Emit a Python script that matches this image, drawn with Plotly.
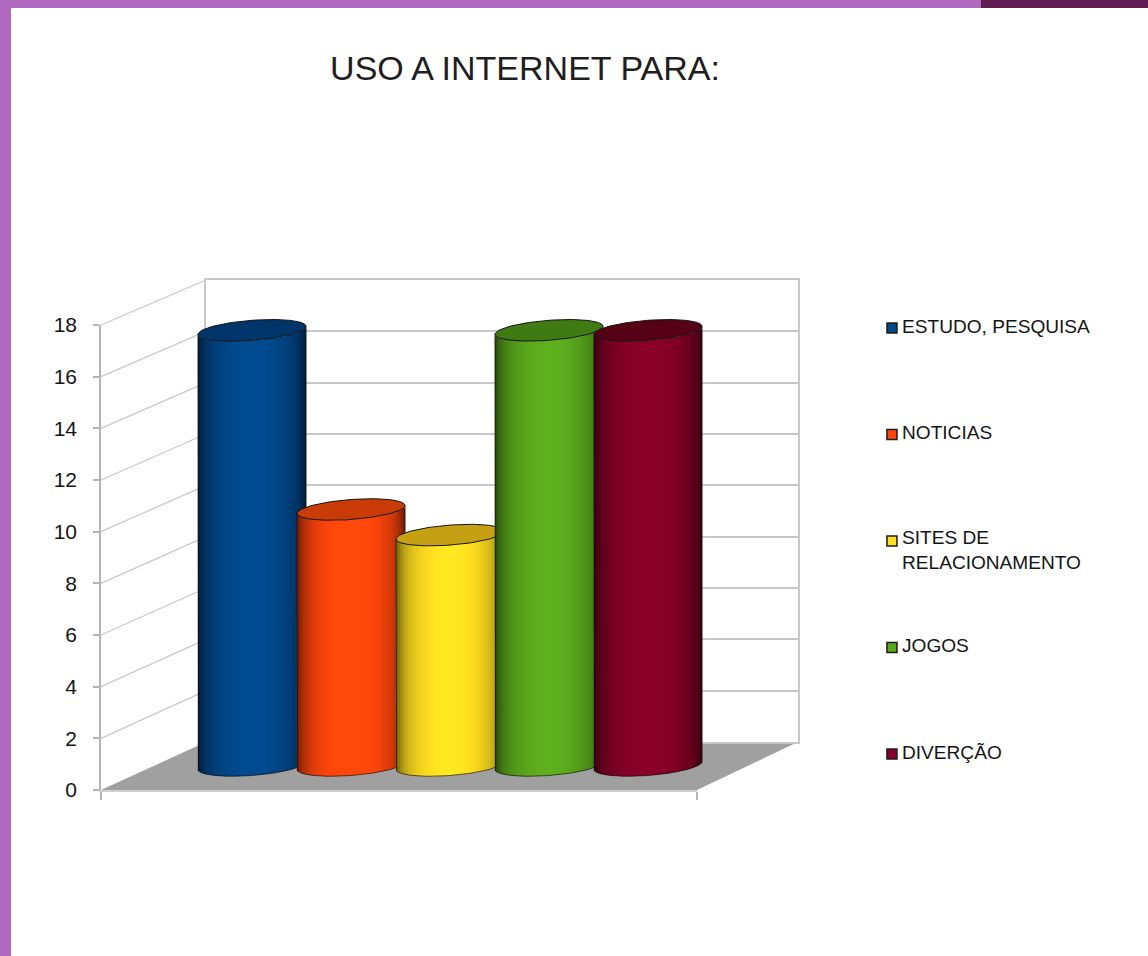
import math
import plotly.graph_objects as go

W, H = 1148, 956

title_text = "USO A INTERNET PARA:"
categories = ["ESTUDO, PESQUISA", "NOTICIAS", "SITES DE<br>RELACIONAMENTO", "JOGOS", "DIVERÇÃO"]
values = [17, 10, 9, 17, 17]
colors = [(0, 72, 138), (255, 70, 12), (255, 222, 32), (90, 168, 30), (132, 0, 40)]
cap_colors = ["#00356b", "#c93c08", "#c5a012", "#3f7a12", "#560016"]
y_ticks = [0, 2, 4, 6, 8, 10, 12, 14, 16, 18]
y_ticklabels = [str(v) for v in y_ticks]

GRID = "#c8c8c8"
AXIS = "#b4b4b4"
FLOOR = "#a0a0a0"


def px(x):
    return x / W


def py(y):
    return 1 - y / H


# planes of the pseudo 3D box, in pixels
FRONT = dict(x0=101, x1=697, y0=790, y18=325)
BACK = dict(x0=206, x1=798, y0=742, y18=280)


def y_on(plane, v):
    return plane["y0"] + (plane["y18"] - plane["y0"]) * v / 18


fig = go.Figure()

# series plane: zero at y=765.5, 25.6 px per unit, -1..18
SCALE = 25.6
SER_TOP = 765.5 - 18 * SCALE
SER_BOT = 765.5 + SCALE
R = 54 / 99
B = 10 / SCALE
K = 4 / SCALE
N = 54


def shade(rgb, u):
    f = 1.05 - 0.35 * u * u - 0.3 * abs(u) ** 8
    return "rgb(%d,%d,%d)" % tuple(min(255, int(c * f)) for c in rgb)


# invisible carriers so that the wall and front axes exist
fig.add_trace(go.Scatter(x=[0], y=[0], xaxis="x", yaxis="y", mode="markers",
                         marker=dict(opacity=0), showlegend=False, hoverinfo="skip"))
fig.add_trace(go.Scatter(x=[0], y=[0], xaxis="x2", yaxis="y2", mode="markers",
                         marker=dict(opacity=0), showlegend=False, hoverinfo="skip"))

for i, (name, v, rgb, cap) in enumerate(zip(categories, values, colors, cap_colors)):
    us = [-1 + (2 * j + 1) / N for j in range(N)]
    xa, ya = f"x{i + 3}", f"y{i + 3}"
    fig.add_trace(go.Bar(
        x=[i + R * u for u in us],
        y=[v] * N,
        base=[K * u - B * math.sqrt(max(0, 1 - u * u)) for u in us],
        width=[2 * R / N * 1.2] * N,
        marker=dict(color=[shade(rgb, u) for u in us], line=dict(width=0)),
        name=name.replace("<br>", " "), xaxis=xa, yaxis=ya, showlegend=False, hoverinfo="skip",
    ))
    ts = [2 * math.pi * j / 120 for j in range(121)]
    fig.add_trace(go.Scatter(
        x=[i + R * math.cos(t) for t in ts],
        y=[v + K * math.cos(t) + B * math.sin(t) for t in ts],
        mode="lines", fill="toself", fillcolor=cap,
        line=dict(color="#141414", width=1), xaxis=xa, yaxis=ya,
        showlegend=False, hoverinfo="skip",
    ))
    arc = [math.pi * j / 60 for j in range(61)]
    fig.add_trace(go.Scatter(
        x=[i - R] + [i - R * math.cos(t) for t in arc] + [i + R],
        y=[v - K] + [-K * math.cos(t) - B * math.sin(t) for t in arc] + [v + K],
        mode="lines", line=dict(color="rgba(20,10,10,0.65)", width=1), xaxis=xa, yaxis=ya,
        showlegend=False, hoverinfo="skip",
    ))

# legend drawn on its own axis
fig.add_trace(go.Scatter(
    x=[0.079] * len(categories), y=list(range(len(categories))),
    mode="markers", xaxis="x8", yaxis="y8", showlegend=False, hoverinfo="skip", cliponaxis=False,
    marker=dict(symbol="square", size=10, color=["rgb(%d,%d,%d)" % c for c in colors],
                line=dict(color="#1c1c1c", width=1.5)),
))

shapes = [
    # slide frame
    dict(type="rect", xref="paper", yref="paper", x0=0, x1=1, y0=py(8), y1=1,
         fillcolor="#ae68be", line_width=0),
    dict(type="rect", xref="paper", yref="paper", x0=px(981), x1=1, y0=py(8), y1=1,
         fillcolor="#5e1c50", line_width=0),
    dict(type="rect", xref="paper", yref="paper", x0=0, x1=px(11), y0=0, y1=py(8),
         fillcolor="#ae68be", line_width=0),
    # floor
    dict(type="path", xref="paper", yref="paper", layer="below", line_width=0, fillcolor=FLOOR,
         path=f"M {px(FRONT['x0'])} {py(FRONT['y0'])} L {px(FRONT['x1'])} {py(FRONT['y0'])} "
              f"L {px(BACK['x1'])} {py(BACK['y0'])} L {px(BACK['x0'])} {py(BACK['y0'])} Z"),
]
# side wall
for v in y_ticks[1:]:
    shapes.append(dict(type="line", xref="paper", yref="paper", layer="below",
                       x0=px(FRONT["x0"]), x1=px(BACK["x0"]),
                       y0=py(y_on(FRONT, v)), y1=py(y_on(BACK, v)),
                       line=dict(color=GRID, width=1.2)))

annotations = []
for i, name in enumerate(categories):
    two = "<br>" in name
    annotations.append(dict(
        x=0.079, y=i, xref="x8", yref="y8", text=name, showarrow=False, align="left",
        xanchor="left", yanchor="top" if two else "middle",
        xshift=9, yshift=15 if two else 2, borderpad=0,
        font=dict(family="Liberation Sans", size=19.1, color="#141414"),
    ))

layout = dict(
    width=W, height=H, autosize=False,
    margin=dict(l=0, r=0, t=0, b=0, pad=0, autoexpand=False),
    paper_bgcolor="white", plot_bgcolor="rgba(0,0,0,0)",
    barmode="overlay", showlegend=False,
    title=dict(text=title_text, xref="paper", yref="paper", x=px(525), y=py(68),
               xanchor="center", yanchor="middle",
               font=dict(family="Liberation Sans", size=34, color="#1e1e1e")),
    shapes=shapes, annotations=annotations,
    # back wall
    xaxis=dict(domain=[px(BACK["x0"]), px(BACK["x1"])], range=[0, 1], showgrid=False, zeroline=False,
               showticklabels=False, ticks="", showline=True, mirror=True, linecolor=GRID, linewidth=2),
    yaxis=dict(domain=[py(BACK["y0"]), py(BACK["y18"])], range=[0, 18], tickvals=y_ticks,
               showgrid=True, gridcolor=GRID, gridwidth=2, zeroline=False,
               showticklabels=False, ticks="", showline=True, mirror=True, linecolor=GRID, linewidth=2),
    # front axes
    xaxis2=dict(domain=[px(FRONT["x0"]), px(FRONT["x1"])], range=[0, 1], anchor="y2", showgrid=False,
                zeroline=False, showticklabels=False, tickvals=[0, 1], ticks="outside", ticklen=8,
                tickcolor=AXIS, tickwidth=1.5, showline=True, linecolor="#cfcfcf", linewidth=1.5),
    yaxis2=dict(domain=[py(FRONT["y0"]), py(FRONT["y18"])], range=[0, 18], anchor="x2", showgrid=False,
                zeroline=False, tickvals=y_ticks, ticktext=y_ticklabels, ticks="outside", ticklen=6,
                tickcolor=AXIS, tickwidth=1.5, showline=True, linecolor=AXIS, linewidth=1.5,
                ticklabelstandoff=12,
                tickfont=dict(family="Liberation Sans", size=21, color="#141414")),
    # legend axis
    xaxis8=dict(domain=[px(870), 1], range=[0, 1], anchor="y8", visible=False),
    yaxis8=dict(domain=[py(754), py(328)], range=[4, 0], anchor="x8", visible=False),
)
# one hidden plane per cylinder, later cylinders paint over earlier ones
for k in range(3, 8):
    layout[f"xaxis{k}"] = dict(domain=[px(153), px(747)], range=[-1, 5], anchor=f"y{k}", visible=False)
    layout[f"yaxis{k}"] = dict(domain=[py(SER_BOT), py(SER_TOP)], range=[-1, 18], anchor=f"x{k}", visible=False)

fig.update_layout(**layout)

fig.write_html("out.html", config=dict(displayModeBar=False),
               post_script="document.body.style.margin='0';document.body.style.overflow='hidden';")
